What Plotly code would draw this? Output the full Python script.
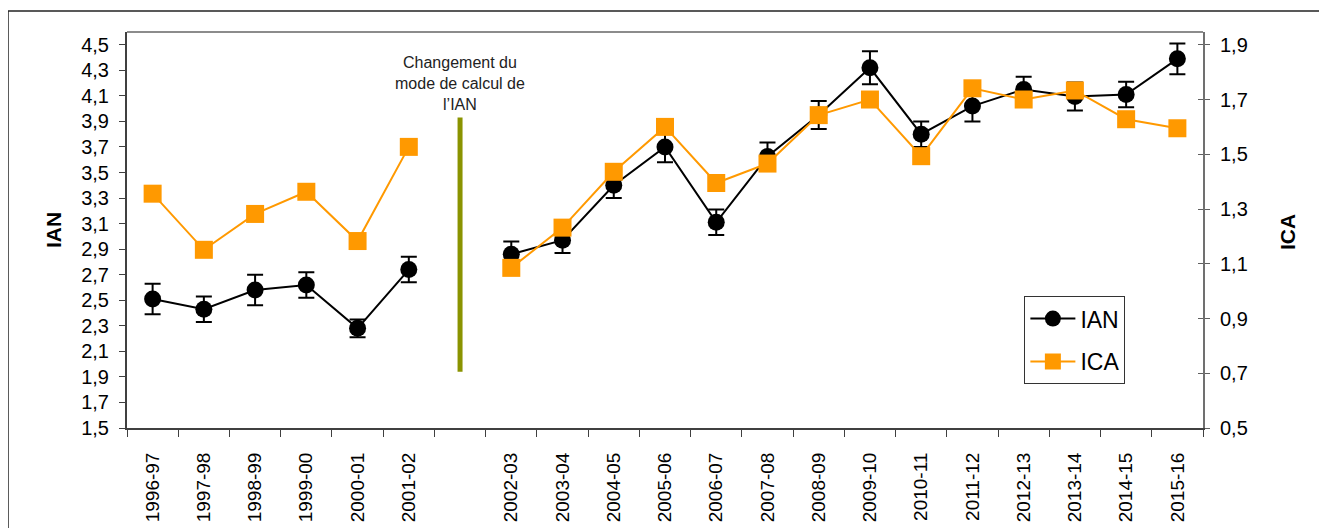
import plotly.graph_objects as go

# ---- data ----
categories = ["1996-97", "1997-98", "1998-99", "1999-00", "2000-01", "2001-02", " ",
              "2002-03", "2003-04", "2004-05", "2005-06", "2006-07", "2007-08", "2008-09",
              "2009-10", "2010-11", "2011-12", "2012-13", "2013-14", "2014-15", "2015-16"]
ian = [2.51, 2.43, 2.58, 2.62, 2.28, 2.74, None,
       2.86, 2.97, 3.40, 3.70, 3.11, 3.625, 3.95, 4.32, 3.80, 4.02, 4.15, 4.095, 4.11, 4.39]
ian_err = [0.12, 0.10, 0.12, 0.10, 0.07, 0.10, 0,
           0.10, 0.10, 0.10, 0.12, 0.10, 0.11, 0.11, 0.13, 0.10, 0.12, 0.10, 0.11, 0.10, 0.12]
ica = [1.356, 1.151, 1.282, 1.363, 1.183, 1.527, None,
       1.085, 1.232, 1.436, 1.600, 1.395, 1.466, 1.643, 1.700, 1.493, 1.741, 1.700, 1.733, 1.628, 1.595]
left_ticks = [1.5, 1.7, 1.9, 2.1, 2.3, 2.5, 2.7, 2.9, 3.1, 3.3, 3.5, 3.7, 3.9, 4.1, 4.3, 4.5]
right_ticks = [0.5, 0.7, 0.9, 1.1, 1.3, 1.5, 1.7, 1.9]
divider_category = " "
divider_range = [1.94, 3.93]
note_text = "Changement du<br>mode de calcul de<br>l’IAN"

FONT = "Liberation Sans, Arial, sans-serif"
left_range = [1.5, 4.6]
right_range = [0.5, 0.5 + (left_range[1] - left_range[0]) * 1.4 / 3.0]

fig = go.Figure()
fig.add_trace(go.Scatter(
    x=categories, y=ian, name="IAN", mode="lines+markers", yaxis="y",
    line=dict(color="black", width=2),
    marker=dict(symbol="circle", size=17, color="black"),
    error_y=dict(type="data", array=ian_err, visible=True, color="black", thickness=2, width=8),
    connectgaps=False, legendgroup="a"))
fig.add_trace(go.Scatter(
    x=categories, y=ica, name="ICA", mode="lines+markers", yaxis="y2",
    line=dict(color="#FF9900", width=2),
    marker=dict(symbol="square", size=18, color="#FF9900"),
    connectgaps=False, legendgroup="b"))
# helper trace so the inner tick axis on the right is drawn
fig.add_trace(go.Scatter(x=categories, y=[None] * len(categories), yaxis="y3",
                         showlegend=False, hoverinfo="skip"))

fig.update_layout(
    width=1327, height=528,
    margin=dict(l=119, r=132, t=24, b=108),
    paper_bgcolor="white", plot_bgcolor="white",
    separators=", ",
    font=dict(family=FONT, size=20, color="black"),
    showlegend=True,
    legend=dict(x=0.834, y=0.333, xanchor="left", yanchor="top",
                bordercolor="#333333", borderwidth=1, bgcolor="white",
                font=dict(family=FONT, size=23), traceorder="grouped", tracegroupgap=10,
                itemwidth=45),
    xaxis=dict(type="category", categoryorder="array", categoryarray=categories,
               tickangle=-90, ticks="outside", ticklen=7, tickcolor="#404040",
               tickson="boundaries", showline=True, linecolor="#404040", linewidth=2,
               showgrid=False, zeroline=False, tickfont=dict(size=19),
               ticklabelstandoff=15,
               range=[-0.5, len(categories) - 0.5]),
    yaxis=dict(range=left_range, tickvals=left_ticks, tickformat=".1f",
               ticks="outside", ticklen=6, tickcolor="#404040",
               showline=True, linecolor="#404040", linewidth=2,
               showgrid=False, zeroline=False, tickfont=dict(size=20),
               ticklabelstandoff=6),
    yaxis2=dict(range=right_range, tickvals=right_ticks, tickformat=".1f",
                overlaying="y", side="right", ticks="outside", ticklen=5,
                tickcolor="#606060", showline=True, linecolor="#707070", linewidth=2,
                showgrid=False, zeroline=False, tickfont=dict(size=20),
                ticklabelstandoff=6),
    yaxis3=dict(range=right_range, tickvals=right_ticks, overlaying="y", side="right",
                ticks="inside", ticklen=5, tickcolor="#606060", showticklabels=False,
                showline=False, showgrid=False, zeroline=False),
)

# divider line and note
fig.add_shape(type="line", xref="x", yref="y",
              x0=categories.index(divider_category), x1=categories.index(divider_category),
              y0=divider_range[0], y1=divider_range[1],
              line=dict(color="#8A9300", width=5))
fig.add_annotation(x=categories.index(divider_category), y=4.2, xref="x", yref="y",
                   text=note_text, showarrow=False, align="center",
                   font=dict(family=FONT, size=16, color="#222222"))

# axis titles
fig.add_annotation(x=-0.0688, y=0.5, xref="paper", yref="paper", text="<b>IAN</b>",
                   xanchor="center", yanchor="middle",
                   textangle=-90, showarrow=False, font=dict(family=FONT, size=21))
fig.add_annotation(x=1.079, y=0.495, xref="paper", yref="paper", text="<b>ICA</b>",
                   xanchor="center", yanchor="middle",
                   textangle=-90, showarrow=False, font=dict(family=FONT, size=21))

# plot frame (top) and outer chart border
fig.add_shape(type="line", xref="paper", yref="paper", x0=0, x1=1, y0=1, y1=1,
              line=dict(color="#8c8c8c", width=2))
fig.add_shape(type="line", xref="paper", yref="paper", x0=-0.1106, x1=1.2, y0=1.053, y1=1.053,
              line=dict(color="#222222", width=1.5))
fig.add_shape(type="line", xref="paper", yref="paper", x0=-0.1106, x1=-0.1106, y0=1.053, y1=-0.35,
              line=dict(color="#222222", width=1.5))

fig.write_html("out.html")
